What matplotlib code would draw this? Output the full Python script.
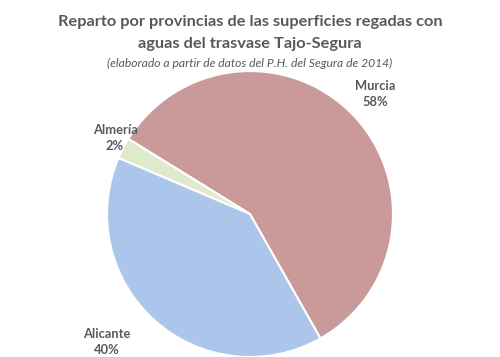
import matplotlib.pyplot as plt

# datos (porcentaje de superficie regada)
provincias = ["Murcia", "Almería", "Alicante"]
porcentajes = [58.0, 2.4, 39.6]
colores = ["#CA9A9A", "#DFEACB", "#ABC6EA"]

# posiciones de las etiquetas (coordenadas del eje de la tarta)
pos_etiquetas = [(0.874, 0.84), (-0.944, 0.53), (-1.0, -0.895)]

fig = plt.figure(figsize=(5, 3.57), dpi=100)
ax = fig.add_axes([0.214, 0.0, 0.572, 0.801])

ax.pie(porcentajes, colors=colores, startangle=-60.5, counterclock=True,
       radius=1, wedgeprops=dict(edgecolor="white", linewidth=1.5))
ax.set_xlim(-1, 1)
ax.set_ylim(-1, 1)
ax.set_aspect("equal")
ax.axis("off")

for nombre, p, (x, y) in zip(provincias, porcentajes, pos_etiquetas):
    ax.text(x, y, "%s\n%d%%" % (nombre, round(p)), ha="center", va="center",
            fontsize=9.3, fontweight="bold", color="#595959", family="Lato",
            linespacing=1.45, clip_on=False)

fig.text(0.5, 0.938, "Reparto por provincias de las superficies regadas con",
         ha="center", va="center", fontsize=11.8, fontweight="bold",
         color="#595959", family="Lato")
fig.text(0.5, 0.877, "aguas del trasvase Tajo-Segura",
         ha="center", va="center", fontsize=11.8, fontweight="bold",
         color="#595959", family="Lato")
fig.text(0.5, 0.822, "(elaborado a partir de datos del P.H. del Segura de 2014)",
         ha="center", va="center", fontsize=8.7, style="italic",
         color="#595959", family="Lato")

fig.savefig("out.png", dpi=100)
